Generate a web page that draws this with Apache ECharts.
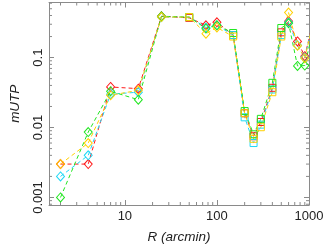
<!DOCTYPE html>
<html>
<head>
<meta charset="utf-8">
<script src="https://cdn.jsdelivr.net/npm/echarts@6/dist/echarts.min.js"></script>
<style>
html,body{margin:0;padding:0;background:#fff;}
#c{width:327px;height:249px;}
</style>
</head>
<body>
<div id="c"></div>
<script>
// ---- data ----
const radius = [2, 4, 7, 14, 25, 50, 76, 100, 150, 200, 250, 300, 400, 500, 600, 750, 900, 1200];
const markerShape = ['diamond','diamond','diamond','diamond','diamond','rect','diamond','diamond','rect','rect','rect','rect','rect','rect','diamond','diamond','diamond','diamond'];
const redVals    = [0.003, 0.003, 0.038, 0.036, 0.39, 0.37, 0.29, 0.32, 0.21, 0.016, 0.0075, 0.012, 0.037, 0.23, 0.33, 0.17, 0.105, 0.5];
const cyanVals   = [0.002, 0.004, 0.030, 0.032, 0.38, 0.38, 0.27, 0.29, 0.21, 0.014, 0.006, 0.011, 0.035, 0.21, 0.32, 0.15, 0.10, 0.5];
const greenVals  = [0.001, 0.0086, 0.033, 0.025, 0.39, 0.38, 0.26, 0.29, 0.225, 0.0172, 0.0080, 0.0133, 0.0436, 0.265, 0.31, 0.076, 0.077, 0.4];
const yellowVals = [0.003, 0.006, 0.029, 0.034, 0.38, 0.38, 0.22, 0.27, 0.20, 0.016, 0.0069, 0.0101, 0.032, 0.20, 0.44, 0.148, 0.098, 0.5];
const xRange = [1.5, 1000];
const yRange = [0.00078, 0.614];
const xMinorTicks = [2,3,4,5,6,7,8,9,20,30,40,50,60,70,80,90,200,300,400,500,600,700,800,900];
const yMinorTicks = [0.0008,0.0009,0.002,0.003,0.004,0.005,0.006,0.007,0.008,0.009,0.02,0.03,0.04,0.05,0.06,0.07,0.08,0.09,0.2,0.3,0.4,0.5,0.6];

const axisGray = '#8a8a8a';
const textColor = '#222';
const fontFam = '"Liberation Sans", Arial, Helvetica, sans-serif';

function mkSeries(name, vals, color) {
  return {
    name: name,
    type: 'line',
    xAxisIndex: 0, yAxisIndex: 0,
    data: radius.map((r, i) => ({
      value: [r, vals[i]],
      symbol: markerShape[i],
      symbolSize: markerShape[i] === 'diamond' ? [8, 9] : [7, 7]
    })),
    lineStyle: { color: color, width: 1, type: [4, 3] },
    itemStyle: { color: 'rgba(0,0,0,0)', borderColor: color, borderWidth: 1 },
    showAllSymbol: true,
    clip: true,
    animation: false
  };
}

const chart = echarts.init(document.getElementById('c'), null, { renderer: 'canvas' });
const option = {
  animation: false,
  grid: { left: 34, right: 18, top: 2.5, bottom: 30, containLabel: false },
  xAxis: [
    {
      type: 'log', logBase: 10, min: xRange[0], max: xRange[1], position: 'bottom',
      axisLine: { lineStyle: { color: axisGray, width: 1 } },
      axisTick: { inside: true, length: 5, lineStyle: { color: axisGray } },
      axisLabel: { color: textColor, fontSize: 13, fontFamily: fontFam, margin: 5, showMinLabel: false,
                   formatter: v => String(Math.round(v)) },
      splitLine: { show: false },
      name: 'R (arcmin)', nameLocation: 'middle', nameGap: 25,
      nameTextStyle: { color: textColor, fontSize: 13.5, fontStyle: 'italic', fontFamily: fontFam }
    },
    {
      type: 'log', logBase: 10, min: xRange[0], max: xRange[1], position: 'top',
      axisLine: { lineStyle: { color: axisGray, width: 1 } },
      axisTick: { inside: true, length: 5, lineStyle: { color: axisGray } },
      axisLabel: { show: false }, splitLine: { show: false }
    }
  ],
  yAxis: [
    {
      type: 'log', logBase: 10, min: yRange[0], max: yRange[1], position: 'left',
      axisLine: { lineStyle: { color: axisGray, width: 1 } },
      axisTick: { inside: true, length: 5, lineStyle: { color: axisGray } },
      axisLabel: { color: textColor, fontSize: 13, fontFamily: fontFam, rotate: 90, margin: 4,
                   align: 'center', verticalAlign: 'bottom',
                   showMinLabel: false, showMaxLabel: false, formatter: v => String(+v.toPrecision(3)) },
      splitLine: { show: false },
      name: 'mUTP', nameLocation: 'middle', nameGap: 27, nameRotate: 90,
      nameTextStyle: { color: textColor, fontSize: 13.5, fontStyle: 'italic', fontFamily: fontFam }
    },
    {
      type: 'log', logBase: 10, min: yRange[0], max: yRange[1], position: 'right',
      axisLine: { lineStyle: { color: axisGray, width: 1 } },
      axisTick: { inside: true, length: 5, lineStyle: { color: axisGray } },
      axisLabel: { show: false }, splitLine: { show: false }
    }
  ],
  series: [
    {
      type: 'custom', xAxisIndex: 0, yAxisIndex: 0, silent: true, z: 1, clip: false,
      data: [[10, 0.01]],
      renderItem: function (params, api) {
        const ch = [];
        const st = { stroke: axisGray, lineWidth: 1 };
        xMinorTicks.forEach(v => {
          const b = api.coord([v, yRange[0]]);
          const t = api.coord([v, yRange[1]]);
          ch.push({ type: 'line', shape: { x1: b[0], y1: b[1], x2: b[0], y2: b[1] - 3 }, style: st });
          ch.push({ type: 'line', shape: { x1: t[0], y1: t[1], x2: t[0], y2: t[1] + 3 }, style: st });
        });
        yMinorTicks.forEach(v => {
          const l = api.coord([xRange[0], v]);
          const r = api.coord([xRange[1], v]);
          ch.push({ type: 'line', shape: { x1: l[0], y1: l[1], x2: l[0] + 3, y2: l[1] }, style: st });
          ch.push({ type: 'line', shape: { x1: r[0], y1: r[1], x2: r[0] - 3, y2: r[1] }, style: st });
        });
        return { type: 'group', children: ch };
      }
    },
    mkSeries('red', redVals, '#ff1a1a'),
    mkSeries('cyan', cyanVals, '#1ed8f5'),
    mkSeries('green', greenVals, '#20e620'),
    mkSeries('yellow', yellowVals, '#ffd000')
  ]
};
chart.setOption(option);
</script>
</body>
</html>
